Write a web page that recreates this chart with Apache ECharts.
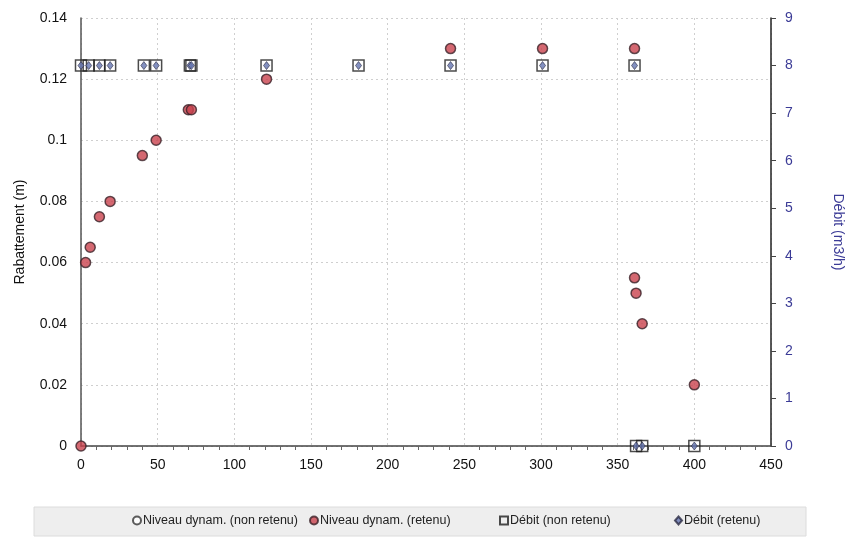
<!DOCTYPE html>
<html>
<head>
<meta charset="utf-8">
<script src="https://cdn.jsdelivr.net/npm/echarts@6/dist/echarts.min.js"></script>
<style>
  html, body { margin: 0; padding: 0; background: #fff; }
  #chart { width: 858px; height: 537px; }
</style>
</head>
<body>
<div id="chart"></div>
<script>
// Pumping test: drawdown (m) and flow rate (m3/h) over time
var xTicks = [0, 50, 100, 150, 200, 250, 300, 350, 400, 450];

// Niveau dynamique retenu: [temps, rabattement]
var niveauRetenu = [
  [0, 0], [3, 0.06], [6, 0.065], [12, 0.075], [19, 0.08],
  [40, 0.095], [49, 0.1], [70, 0.11], [72, 0.11], [121, 0.12],
  [241, 0.13], [301, 0.13], [361, 0.13],
  [361, 0.055], [362, 0.05], [366, 0.04], [400, 0.02]
];
// Niveau dynamique non retenu (aucun point)
var niveauNonRetenu = [];

// Débit: temps et valeurs
var debitTemps = [0, 5, 12, 19, 41, 49, 71, 72, 121, 181, 241, 301, 361, 362, 366, 400];
var debitValeurs = [8, 8, 8, 8, 8, 8, 8, 8, 8, 8, 8, 8, 8, 0, 0, 0];

var legendNames = ['Niveau dynam. (non retenu)', 'Niveau dynam. (retenu)', 'Débit (non retenu)', 'Débit (retenu)'];
var legendIcons = ['circle', 'circle', 'rect', 'diamond'];
var legendLeft = [132, 309, 499, 674];

function pairs(xs, ys) {
  return xs.map(function (x, i) { return [x, ys[i]]; });
}
var debitPoints = pairs(debitTemps, debitValeurs);

var chart = echarts.init(document.getElementById('chart'));
var font = 'Liberation Sans, Arial, sans-serif';
var gridStyle = { color: '#cfcfcf', width: 1, type: [2, 3] };

var legends = legendNames.map(function (name, i) {
  return {
    top: 514,
    left: legendLeft[i],
    itemWidth: i === 3 ? 7 : 8,
    itemHeight: 8,
    itemGap: 0,
    padding: 0,
    textStyle: { fontFamily: font, fontSize: 12.5, color: '#222', padding: [0, 0, 0, -3] },
    data: [{ name: name, icon: legendIcons[i] }]
  };
});

chart.setOption({
  animation: false,
  textStyle: { fontFamily: font },
  graphic: [{
    type: 'rect',
    shape: { x: 34, y: 507, width: 772, height: 29 },
    style: { fill: '#eeeeee', stroke: '#dcdcdc', lineWidth: 1 },
    z: -1
  }],
  grid: { left: 81, right: 87, top: 18, bottom: 91 },
  legend: legends,
  xAxis: {
    type: 'value',
    min: 0, max: 450, interval: 50,
    axisLine: { lineStyle: { color: '#444', width: 1.5 } },
    axisTick: { show: false },
    minorTick: { show: true, splitNumber: 5, length: 4, lineStyle: { color: '#666' } },
    axisLabel: { color: '#111', fontSize: 14, margin: 12 },
    splitLine: { show: true, lineStyle: gridStyle }
  },
  yAxis: [{
    type: 'value',
    min: 0, max: 0.14, interval: 0.02,
    name: 'Rabattement (m)',
    nameLocation: 'middle',
    nameGap: 54,
    nameTextStyle: { color: '#111', fontSize: 14 },
    axisLine: { show: true, lineStyle: { color: '#555', width: 1.5 } },
    axisTick: { show: false },
    axisLabel: { color: '#111', fontSize: 14, margin: 14 },
    splitLine: { show: true, lineStyle: gridStyle }
  }, {
    type: 'value',
    min: 0, max: 9, interval: 1,
    name: 'Débit (m3/h)',
    nameLocation: 'middle',
    nameGap: 60,
    nameRotate: -90,
    nameTextStyle: { color: '#3b3b96', fontSize: 14 },
    axisLine: { show: true, lineStyle: { color: '#222', width: 1.5 } },
    axisTick: { show: true, inside: false, length: 5, lineStyle: { color: '#444' } },
    axisLabel: { color: '#3b3b96', fontSize: 14, margin: 14 },
    splitLine: { show: false }
  }],
  series: [{
    name: legendNames[0],
    type: 'scatter',
    data: niveauNonRetenu,
    symbol: 'circle',
    symbolSize: 10,
    itemStyle: { color: '#ffffff', borderColor: '#333', borderWidth: 1.2 }
  }, {
    name: legendNames[1],
    type: 'scatter',
    data: niveauRetenu,
    symbol: 'circle',
    symbolSize: 10,
    itemStyle: { color: '#c9424e', borderColor: '#3a2228', borderWidth: 1.5 },
    z: 4
  }, {
    name: legendNames[2],
    type: 'scatter',
    yAxisIndex: 1,
    data: debitPoints,
    symbol: 'rect',
    symbolSize: 11,
    itemStyle: { color: 'rgba(255,255,255,0)', borderColor: '#1e1e1e', borderWidth: 1.5 },
    z: 2
  }, {
    name: legendNames[3],
    type: 'scatter',
    yAxisIndex: 1,
    data: debitPoints,
    symbol: 'diamond',
    symbolSize: [6, 8],
    itemStyle: { color: '#6474b0', borderColor: '#2c2c44', borderWidth: 0.8 },
    z: 3
  }]
});
</script>
</body>
</html>
